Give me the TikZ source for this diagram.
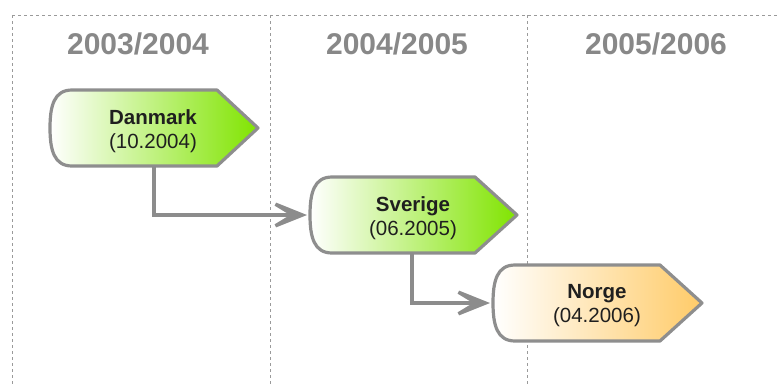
\documentclass[tikz,border=0pt]{standalone}
\usepackage{fontspec}
\setmainfont{Liberation Sans}
\usetikzlibrary{arrows.meta}
\definecolor{gridgray}{HTML}{9A9A9A}
\definecolor{headgray}{HTML}{888888}
\definecolor{edgegray}{HTML}{8C8C8C}
\definecolor{tagborder}{HTML}{8E8E8E}
\definecolor{limegreen}{HTML}{80E400}
\definecolor{sandorange}{HTML}{FFCB68}
\tikzset{
  grid line/.style={draw=gridgray, line width=1pt, dash pattern=on 3pt off 3pt},
  year head/.style={text=headgray, font=\fontsize{30}{32}\selectfont\bfseries, anchor=center},
  tagbox/.style={draw=tagborder, line width=3.2pt, line join=round},
  green tag/.style={tagbox, left color=white, right color=limegreen},
  orange tag/.style={tagbox, left color=white, right color=sandorange},
  tag label/.style={align=center, text=black!88, font=\fontsize{20.5}{24}\selectfont},
  flow/.style={draw=edgegray, line width=3.4pt,
    -{Stealth[length=50pt, width=40pt, inset=33pt]}},
}
\begin{document}
\begin{tikzpicture}[x=1pt, y=-1pt]
  \useasboundingbox (0,0) rectangle (777,386);
  % year grid
  \draw[grid line] (12,15) -- (777,15);
  \draw[grid line] (12,15) -- (12,386);
  \draw[grid line] (270,15) -- (270,386);
  \draw[grid line] (527,15) -- (527,386);
  \node[year head] (y1) at (138,44) {2003/2004};
  \node[year head] (y2) at (397,44) {2004/2005};
  \node[year head] (y3) at (656,44) {2005/2006};

  % tags
  \path[green tag] (72,90) -- (217,90) -- (258,128) -- (217,166) -- (72,166)
    .. controls (54,166) and (50,150) .. (50,128)
    .. controls (50,106) and (54,90) .. cycle;
  \node[tag label] (dk) at (153,131) {\textbf{Danmark}\\(10.2004)};
  \coordinate (dkS) at (154,166);

  \path[green tag] (332,177) -- (475,177) -- (517,215) -- (475,253) -- (332,253)
    .. controls (314,253) and (310,237) .. (310,215)
    .. controls (310,193) and (314,177) .. cycle;
  \node[tag label] (se) at (413,218) {\textbf{Sverige}\\(06.2005)};
  \coordinate (seW) at (307,215);
  \coordinate (seS) at (412,253);

  \path[orange tag] (515,265) -- (660,265) -- (702,303) -- (660,341) -- (515,341)
    .. controls (497,341) and (493,325) .. (493,303)
    .. controls (493,281) and (497,265) .. cycle;
  \node[tag label] (no) at (597,306) {\textbf{Norge}\\(04.2006)};
  \coordinate (noW) at (490,303);

  % connectors
  \draw[flow] (dkS) |- (seW);
  \draw[flow] (seS) |- (noW);
\end{tikzpicture}
\end{document}
